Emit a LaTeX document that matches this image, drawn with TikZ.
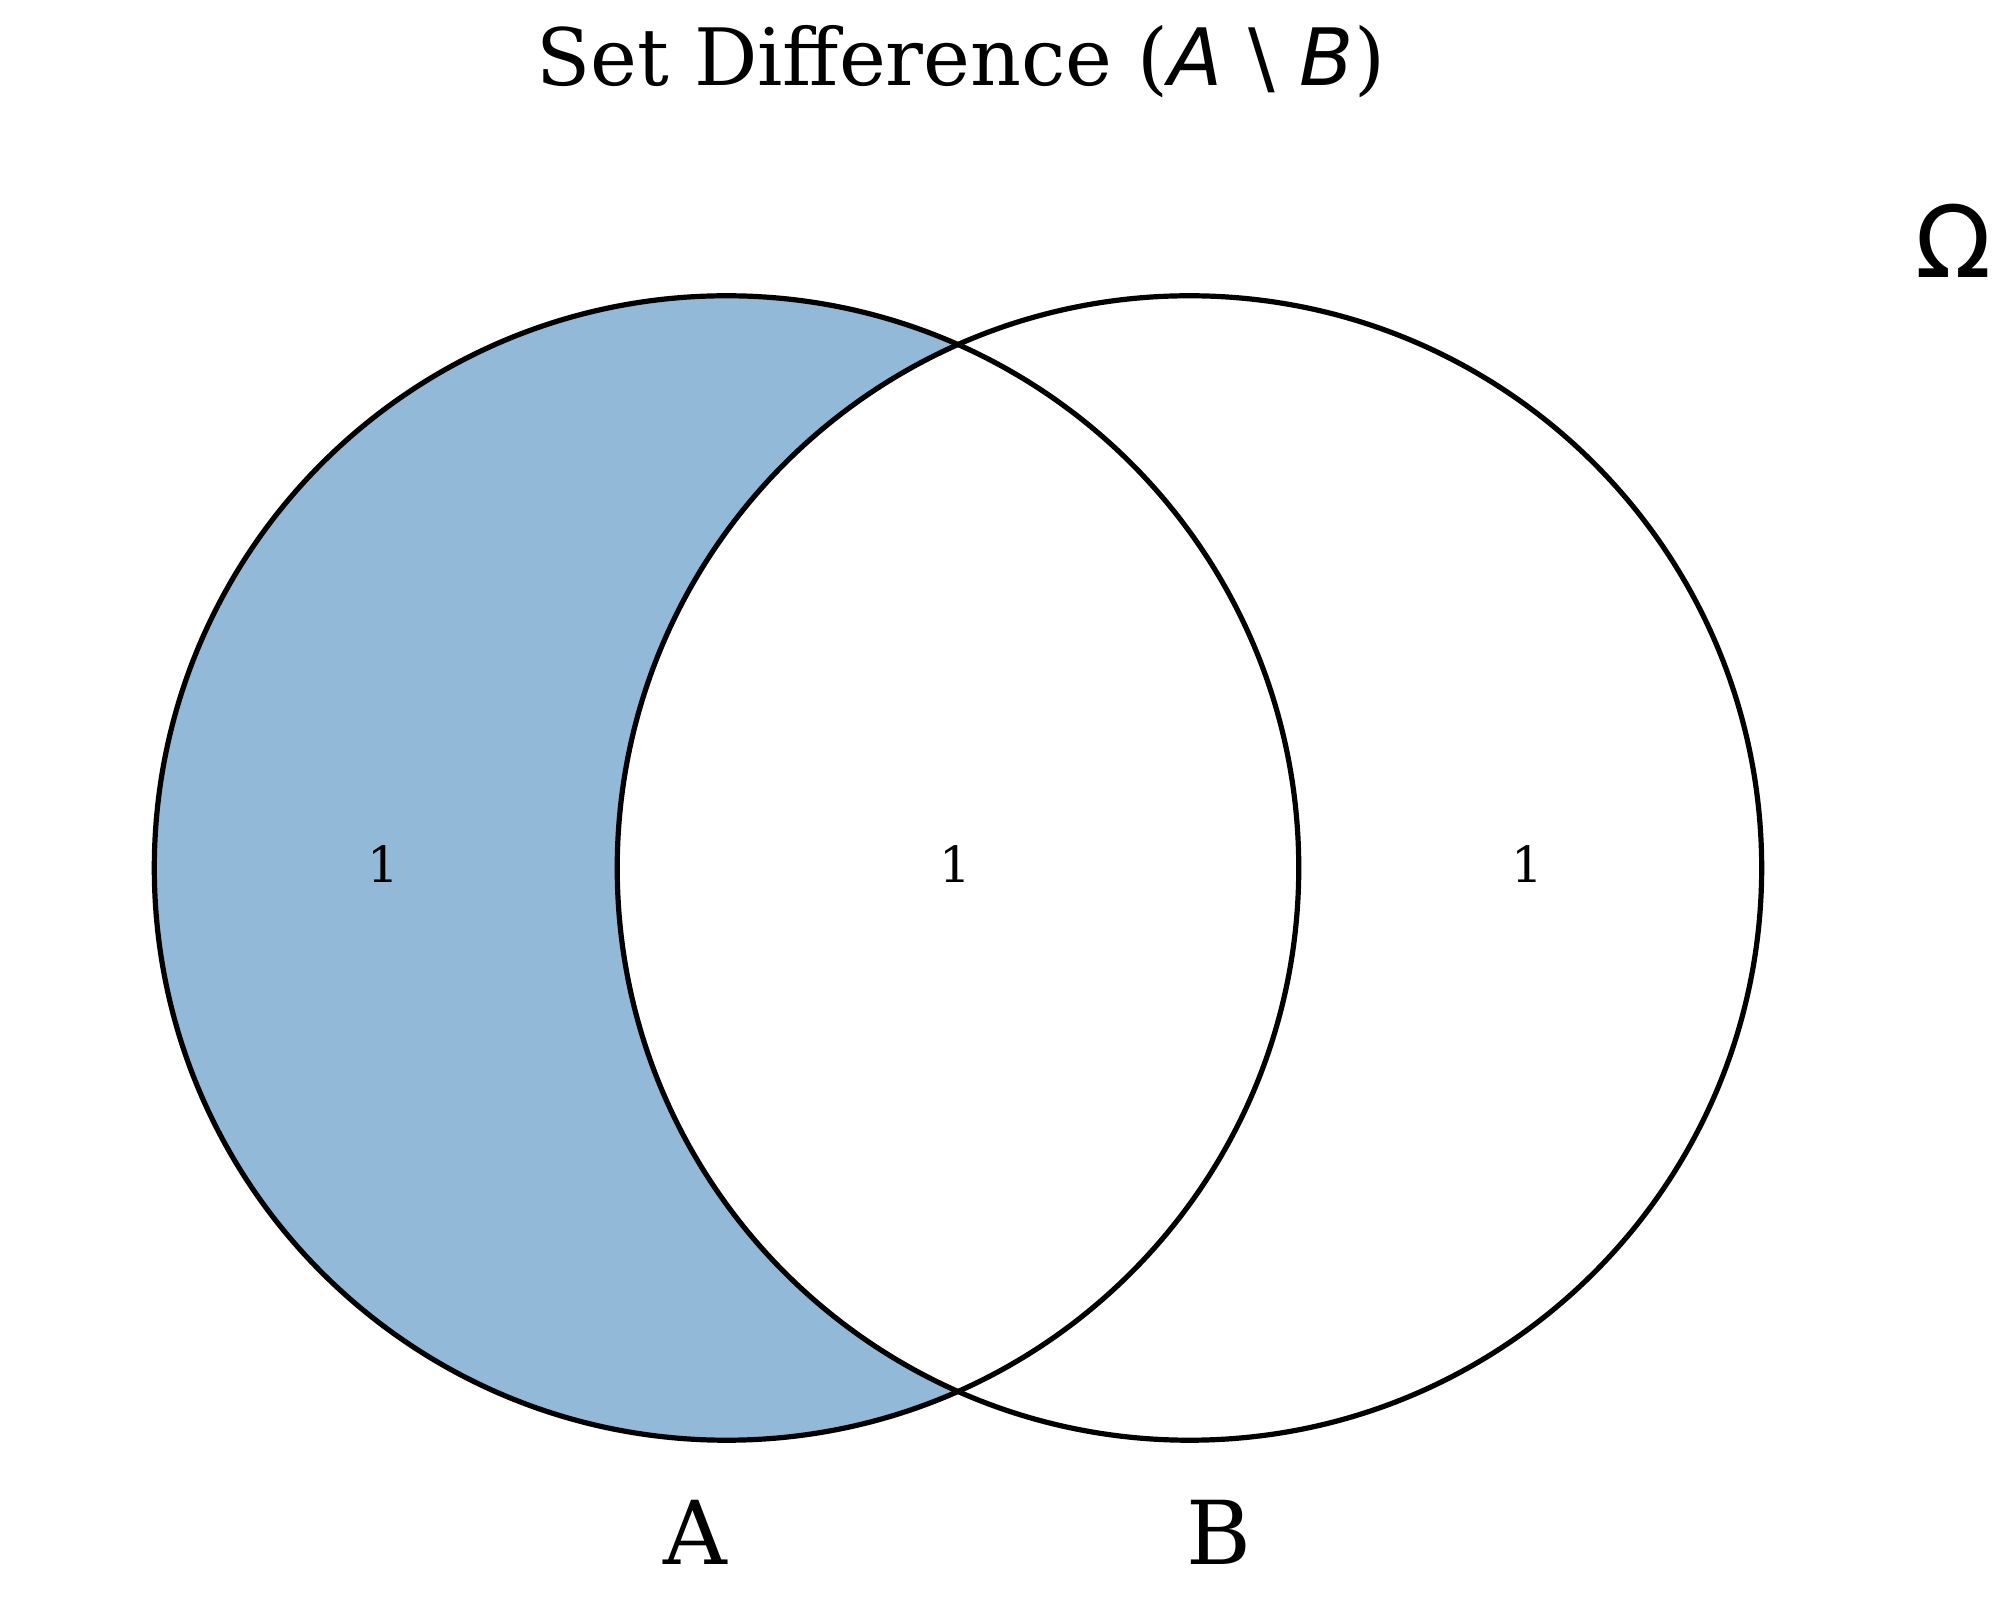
\documentclass[tikz,border=0pt]{standalone}
\usepackage{fontspec}
\setmainfont{DejaVu Serif}
\newfontfamily\dvsans{DejaVu Sans}
\definecolor{fillA}{HTML}{92B9D8}
\begin{document}
\begin{tikzpicture}[x=0.01cm,y=-0.01cm]
\useasboundingbox (0,0) rectangle (1560,1245);
\tikzset{setline/.style={line width=1.15pt,draw=black}}
\begin{scope}
\clip (0,0) rectangle (1560,1245);
\fill[fillA,even odd rule] (565,675) circle (445) (925,675) circle (445);
\fill[white] (925,675) circle (445);
\end{scope}
\draw[setline] (565,675) circle (445);
\draw[setline] (925,675) circle (445);
\node[font=\fontsize{11}{13}\selectfont] (l1) at (298,672) {1};
\node[font=\fontsize{11}{13}\selectfont] (l2) at (743,672) {1};
\node[font=\fontsize{11}{13}\selectfont] (l3) at (1188,672) {1};
\node[font=\fontsize{19.5}{22}\selectfont] (la) at (541,1192) {A};
\node[font=\fontsize{19.5}{22}\selectfont] (lb) at (948,1192) {B};
\node[font=\dvsans\fontsize{22}{24}\selectfont] (om) at (1519,187) {Ω};
\node[font=\fontsize{17.5}{20}\selectfont] (title) at (747,48) {Set Difference ({\dvsans\itshape A} {\dvsans\textbackslash} {\dvsans\itshape B})};
\end{tikzpicture}
\end{document}
